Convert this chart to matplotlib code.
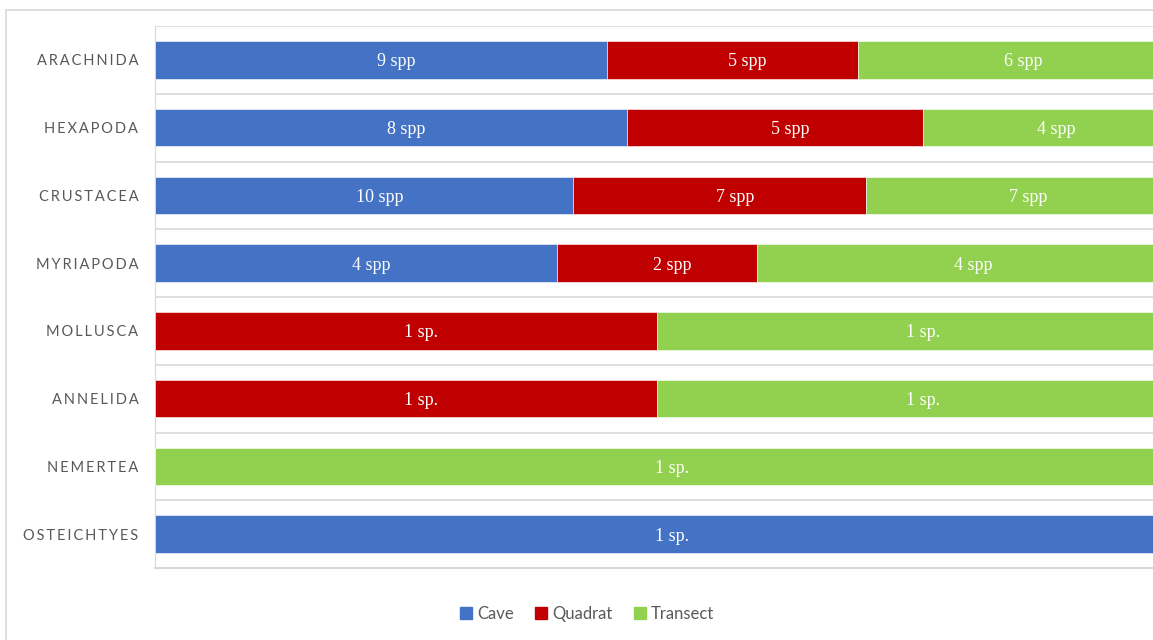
import matplotlib.pyplot as plt
import matplotlib.patches as mpatches
import numpy as np

# species counts per group and sampling method
groups = ['ARACHNIDA', 'HEXAPODA', 'CRUSTACEA', 'MYRIAPODA',
          'MOLLUSCA', 'ANNELIDA', 'NEMERTEA', 'OSTEICHTYES']
methods = ['Cave', 'Quadrat', 'Transect']
cave = [9, 8, 10, 4, 0, 0, 0, 1]
quadrat = [5, 5, 7, 2, 1, 1, 0, 0]
transect = [6, 4, 7, 4, 1, 1, 1, 0]
colors = ['#4472C4', '#C00000', '#92D050']

counts = np.array([cave, quadrat, transect], dtype=float)
shares = counts / counts.sum(axis=0)

W, H = 1153, 640
fig = plt.figure(figsize=(W / 100, H / 100), dpi=100)

# outer chart border (cropped on right and bottom)
fig.patches.append(mpatches.Rectangle((6 / W, -0.1), 1.2, 1 - 10 / H + 0.1,
                                      transform=fig.transFigure, fill=False,
                                      edgecolor='#d9d9d9', linewidth=1.2))

ax = fig.add_axes([155 / W, 1 - 568 / H, 1004 / W, 542 / H])
y = np.arange(len(groups))
left = np.zeros(len(groups))
for i, method in enumerate(methods):
    bars = ax.barh(y, shares[i], left=left, height=0.55, color=colors[i],
                   edgecolor='white', linewidth=0.4, label=method, zorder=3)
    for j, b in enumerate(bars):
        n = int(counts[i, j])
        if n == 0:
            continue
        txt = '1 sp.' if n == 1 else '{} spp'.format(n)
        # labels sit a little right of the segment centre, like in the source
        ax.annotate(txt, (left[j] + shares[i, j] / 2, y[j]), xytext=(11, -1.5),
                    textcoords='offset points', ha='center', va='center',
                    color='white', fontsize=13, family='Liberation Serif', zorder=4)
    left += shares[i]

ax.set_xlim(0, 1)
ax.set_ylim(len(groups) - 0.5, -0.5)
for k in range(len(groups) + 1):
    ax.axhline(k - 0.5, color='#d9d9d9', linewidth=1.2, zorder=1)

ax.set_yticks(y)
ax.set_yticklabels(['\u2009'.join(g) for g in groups], fontsize=10.5, color='#595959',
                   family=['Lato', 'DejaVu Sans'])
ax.tick_params(axis='y', length=0, pad=12)
ax.set_xticks([])
for s in ['top', 'right']:
    ax.spines[s].set_visible(False)
ax.spines['left'].set_color('#d9d9d9')
ax.spines['bottom'].set_color('#d9d9d9')
ax.spines['bottom'].set_linewidth(1.5)

handles = [mpatches.Patch(color=c, label=m) for m, c in zip(methods, colors)]
leg = fig.legend(handles=handles, loc='center', bbox_to_anchor=(587 / W, 1 - 614 / H),
                 ncol=3, frameon=False, handlelength=0.7, handleheight=0.7,
                 handletextpad=0.3, columnspacing=1.3,
                 prop={'family': 'Lato', 'size': 12})
for t in leg.get_texts():
    t.set_color('#595959')

fig.savefig('out.png', dpi=100)
